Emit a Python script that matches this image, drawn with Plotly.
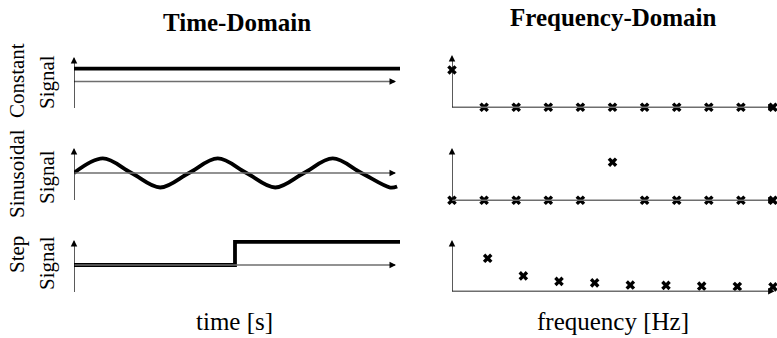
import plotly.graph_objects as go

W, H = 777, 338

# time-domain signals (time in periods of the sinusoid)
const_t = [0, 2.84]
const_y = [0.9, 0.9]
sine_t = [0, 0.25, 0.5, 0.75, 1.0, 1.25, 1.5, 1.75, 2.0, 2.25, 2.5, 2.75, 2.81]
sine_y = [0, 1, 0, -1, 0, 1, 0, -1, 0, 1, 0, -1, -0.93]
step_t = [0, 1.40, 2.84]
step_y = [0, 1.59, 1.59]

# frequency-domain magnitudes
const_f = [0, 1, 2, 3, 4, 5, 6, 7, 8, 9, 10]
const_mag = [1.0, 0, 0, 0, 0, 0, 0, 0, 0, 0, 0]
sine_f = [0, 1, 2, 3, 4, 5, 6, 7, 8, 9, 10]
sine_mag = [0, 0, 0, 0, 0, 1.02, 0, 0, 0, 0, 0]
step_f = [1, 2, 3, 4, 5, 6, 7, 8, 9]
step_mag = [0.9, 0.42, 0.27, 0.23, 0.17, 0.16, 0.14, 0.13, 0.12]

row_names = [["Constant", "Signal"], ["Sinusoidal", "Signal"], ["Step", "Signal"]]

FONT = "Liberation Serif"
GREY = "#6e6e6e"


def px(x):
    return x / W


def py(y):
    return 1 - y / H


# pixel boxes of the six little plots
left_rows = [(57, 108), (148, 200), (240, 292)]
right_rows = [(55, 108), (148, 201), (240, 292)]
left_x = (74, 400)
right_x = (452, 775)

fig = go.Figure()

time_series = [(const_t, const_y, "linear"), (sine_t, sine_y, "spline"), (step_t, step_y, "hv")]
freq_series = [(const_f, const_mag, 10), (sine_f, sine_mag, 10), (step_f, step_mag, 9)]

shapes = []
annotations = []
T_MAX = 2.835
Y_LO, Y_HI = -1.86, 1.72
M_HI = 1.4

for i in range(3):
    # left: time domain
    n = 2 * i + 1
    xa, ya = f"x{n}" if n > 1 else "x", f"y{n}" if n > 1 else "y"
    t, v, shp = time_series[i]
    fig.add_trace(go.Scatter(x=t, y=v, mode="lines", line=dict(color="black", width=3.8, shape=shp, smoothing=1.0),
                             xaxis=xa, yaxis=ya, hoverinfo="skip"))
    y0, y1 = left_rows[i]
    fig.layout[f"xaxis{n if n > 1 else ''}"] = dict(domain=[px(left_x[0]), px(left_x[1])], range=[0, T_MAX],
                                                    visible=False, anchor=ya)
    fig.layout[f"yaxis{n if n > 1 else ''}"] = dict(domain=[py(y1), py(y0)], range=[Y_LO, Y_HI],
                                                    visible=False, anchor=xa)
    shapes.append(dict(type="line", xref=xa, yref=ya, x0=0, x1=2.79, y0=0, y1=0,
                       line=dict(color=GREY, width=1.3)))
    shapes.append(dict(type="line", xref=xa, yref=ya, x0=0, x1=0, y0=Y_LO, y1=Y_HI - 0.1,
                       line=dict(color="black", width=1.3)))
    annotations.append(dict(x=2.8, y=0, xref=xa, yref=ya, ax=-7, ay=0, text="", showarrow=True,
                            arrowhead=2, arrowsize=1, arrowwidth=1.3, arrowcolor="black"))
    annotations.append(dict(x=0, y=Y_HI, xref=xa, yref=ya, ax=0, ay=7, text="", showarrow=True,
                            arrowhead=2, arrowsize=1, arrowwidth=1.3, arrowcolor="black"))

    # right: frequency domain (range padded a little so the last cross is kept)
    n = 2 * i + 2
    xa, ya = f"x{n}", f"y{n}"
    f, m, fmax = freq_series[i]
    xmax = fmax * (right_x[1] - right_x[0]) / (773 - right_x[0])
    fig.add_trace(go.Scatter(x=f, y=m, mode="markers", cliponaxis=False,
                             marker=dict(symbol="x", size=8.5, color="black", line=dict(width=0)),
                             xaxis=xa, yaxis=ya, hoverinfo="skip"))
    y0, y1 = right_rows[i]
    fig.layout[f"xaxis{n}"] = dict(domain=[px(right_x[0]), px(right_x[1])], range=[0, xmax],
                                   visible=False, anchor=ya)
    fig.layout[f"yaxis{n}"] = dict(domain=[py(y1), py(y0)], range=[-0.02, M_HI], visible=False, anchor=xa)
    shapes.append(dict(type="line", xref=xa, yref=ya, x0=0, x1=fmax * 0.99, y0=0, y1=0,
                       line=dict(color=GREY, width=1.3)))
    shapes.append(dict(type="line", xref=xa, yref=ya, x0=0, x1=0, y0=0, y1=M_HI * 0.95,
                       line=dict(color="black", width=1.3)))
    annotations.append(dict(x=fmax * 1.005, y=0, xref=xa, yref=ya, ax=-7, ay=0, text="", showarrow=True,
                            arrowhead=2, arrowsize=1, arrowwidth=1.3, arrowcolor="black"))
    annotations.append(dict(x=0, y=M_HI, xref=xa, yref=ya, ax=0, ay=7, text="", showarrow=True,
                            arrowhead=2, arrowsize=1, arrowwidth=1.3, arrowcolor="black"))


def label(x, y, text, size=21, angle=0):
    return dict(x=px(x), y=py(y), xref="paper", yref="paper", text=text, textangle=angle,
                xanchor="center", yanchor="middle", showarrow=False,
                font=dict(size=size, family=FONT, color="black"))


# row labels
label_y = [(81, 82), (174, 177), (255, 263)]
for (a, b), (ya_, yb_) in zip(row_names, label_y):
    annotations.append(label(17, ya_, a, angle=-90))
    annotations.append(label(47, yb_, b, angle=-90))

# titles and axis names
annotations += [
    label(237, 22, "<b>Time-Domain</b>", size=25),
    label(613, 17, "<b>Frequency-Domain</b>", size=25),
    label(234, 321, "time [s]", size=25),
    label(613, 321, "frequency [Hz]", size=25),
]

fig.update_layout(width=W, height=H, margin=dict(l=0, r=0, t=0, b=0), showlegend=False,
                  paper_bgcolor="white", plot_bgcolor="white", shapes=shapes, annotations=annotations)

fig.write_html("out.html", config={"displayModeBar": False},
               post_script="document.body.style.margin='0';")
